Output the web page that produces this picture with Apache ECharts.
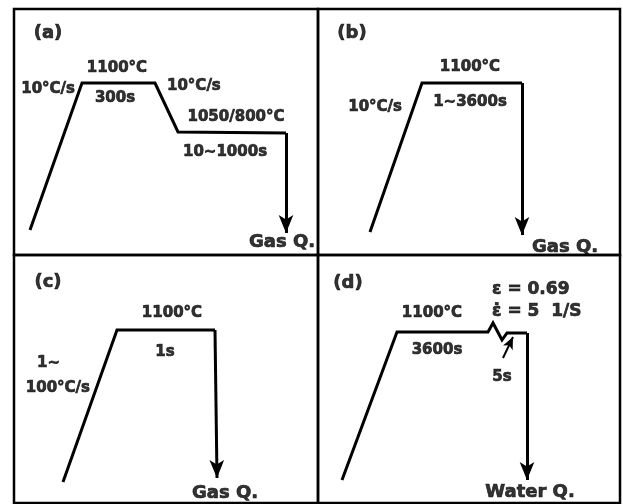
<!DOCTYPE html>
<html>
<head>
<meta charset="utf-8">
<script src="https://cdn.jsdelivr.net/npm/echarts@6/dist/echarts.min.js"></script>
<style>
  html, body { margin: 0; padding: 0; background: #fff; }
  #chart { width: 623px; height: 504px; }
</style>
</head>
<body>
<div id="chart"></div>
<script>
// Heat-treatment schedules. Each panel uses schematic units:
// x = process time (left to right), y = temperature (bottom to top).
const pathA = [[16, 25], [68, 172], [141, 172], [164, 123], [272, 122], [272, 22]];
const pathB = [[52, 23], [104, 172], [204, 172], [204, 20]];
const pathC = [[49, 21], [103, 173], [201, 173], [203, 25]];
const pathD = [[24, 23], [79, 171], [170, 171], [175, 180], [184, 163], [189, 170], [209, 170], [209, 23]];
// pointer to the deformation step in panel (d)
const deformPointerD = [[185, 145], [195, 166]];

// annotation texts of each panel
const textA = ['(a)', '1100°C', '10°C/s', '300s', '10°C/s', '1050/800°C', '10∼1000s', 'Gas Q.'];
const textB = ['(b)', '1100°C', '10°C/s', '1∼3600s', 'Gas Q.'];
const textC = ['(c)', '1100°C', '1s', '1∼', '100°C/s', 'Gas Q.'];
const textD = ['(d)', '1100°C', '3600s', 'ε = 0.69', 'ε̇ = 5  1/S', '5s', 'Water Q.'];

// ---- layout (placement and style of the annotations) ----
const FONT = 'DejaVu Sans';
const styles = {
  tag:  { fontSize: 18 },
  std:  { fontSize: 15 },
  big:  { fontSize: 18 },
  eps:  { fontSize: 17 }
};
// [x, y, align, style] for each text, in the panel's own units
const placeA = [[34, 222, 'center', 'tag'], [103, 187, 'center', 'std'], [61, 166, 'right', 'std'],
                [101, 157, 'center', 'std'], [153, 169, 'left', 'std'], [222, 138, 'center', 'std'],
                [211, 103, 'center', 'std'], [268, 13, 'center', 'big']];
const placeB = [[34, 222, 'center', 'tag'], [152, 188, 'center', 'std'], [84, 148, 'right', 'std'],
                [152, 153, 'center', 'std'], [247, 8, 'center', 'big']];
const placeC = [[34, 221, 'center', 'tag'], [158, 190, 'center', 'std'], [151, 151, 'center', 'std'],
                [23, 140, 'left', 'std'], [76, 115, 'right', 'std'], [211, 10, 'center', 'big']];
const placeD = [[30, 220, 'center', 'tag'], [114, 190, 'center', 'std'], [119, 153, 'center', 'std'],
                [174, 213, 'left', 'eps'], [174, 191, 'left', 'eps'], [184, 126, 'center', 'std'],
                [212, 11, 'center', 'big']];

// panel boxes on the page: [left, top, width, height]
const boxes = [[14, 9, 304, 246], [318, 9, 302, 246], [14, 255, 304, 248], [318, 255, 302, 248]];

const panels = [
  { path: pathA, text: textA, place: placeA },
  { path: pathB, text: textB, place: placeB },
  { path: pathC, text: textC, place: placeC },
  { path: pathD, text: textD, place: placeD, pointer: deformPointerD }
];

const LINE_W = 3;
const INK = '#000';

const grid = [], xAxis = [], yAxis = [], series = [];

panels.forEach((p, i) => {
  const [l, t, w, h] = boxes[i];
  grid.push({ left: l, top: t, width: w, height: h, show: true,
              borderColor: INK, borderWidth: 2.5, backgroundColor: 'transparent' });
  xAxis.push({ gridIndex: i, type: 'value', min: 0, max: w, show: false });
  yAxis.push({ gridIndex: i, type: 'value', min: 0, max: h, show: false });

  const n = p.path.length;
  const arrows = [[{ coord: p.path[n - 2] }, { coord: p.path[n - 1] }]];
  if (p.pointer) {
    arrows.push([{ coord: p.pointer[0], lineStyle: { width: 2 }, symbolSize: [8, 12] },
                 { coord: p.pointer[1], lineStyle: { width: 2 }, symbolSize: [8, 12] }]);
  }

  // schedule path, the final quench drawn as an arrow
  series.push({
    type: 'line',
    xAxisIndex: i, yAxisIndex: i,
    data: p.path.slice(0, n - 1),
    showSymbol: false,
    silent: true,
    lineStyle: { color: INK, width: LINE_W, join: 'miter' },
    markLine: {
      silent: true,
      symbol: ['none', 'arrow'],
      symbolSize: [11, 18],
      label: { show: false },
      emphasis: { disabled: true },
      lineStyle: { color: INK, width: LINE_W, type: 'solid' },
      data: arrows
    }
  });

  // annotations
  series.push({
    type: 'scatter',
    xAxisIndex: i, yAxisIndex: i,
    symbolSize: 0,
    silent: true,
    data: p.text.map((s, k) => {
      const [x, y, align, st] = p.place[k];
      return {
        value: [x, y],
        label: {
          show: true, position: 'inside', formatter: s,
          align: align, verticalAlign: 'middle',
          color: INK, fontFamily: FONT, fontWeight: 'bold',
          fontSize: styles[st].fontSize,
          textBorderColor: INK, textBorderWidth: 0.7
        }
      };
    })
  });
});

const chart = echarts.init(document.getElementById('chart'), null, { renderer: 'canvas' });
chart.setOption({ animation: false, backgroundColor: '#fff', grid, xAxis, yAxis, series });
</script>
</body>
</html>
